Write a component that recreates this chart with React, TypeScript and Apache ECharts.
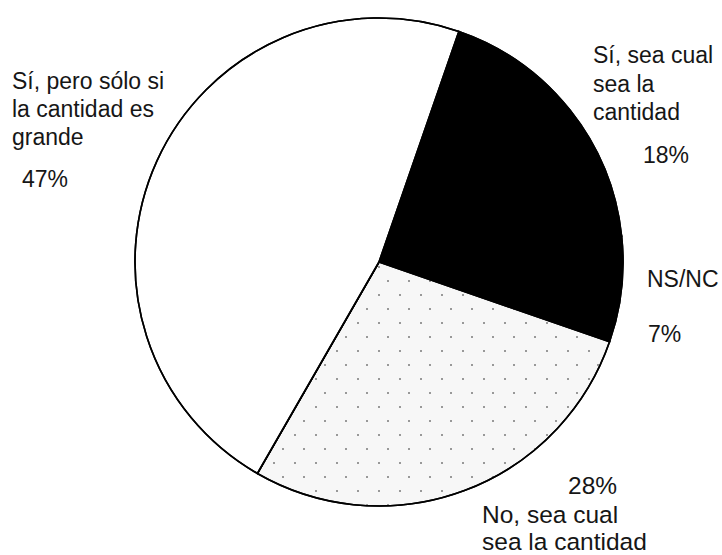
import React, { useEffect, useRef } from 'react';
import * as echarts from 'echarts';

// Data
const categories = [
  'Sí, sea cual\nsea la\ncantidad',
  'NS/NC',
  'No, sea cual\nsea la cantidad',
  'Sí, pero sólo si\nla cantidad es\ngrande',
];
const values = [18, 7, 28, 47];

const FAMILY = '"Liberation Sans", Arial, Helvetica, sans-serif';
const TEXT = '#161616';

export default function App() {
  const ref = useRef<HTMLDivElement>(null);

  useEffect(() => {
    document.body.style.margin = '0';
    if (!ref.current) return;
    const chart = echarts.init(ref.current, undefined, { renderer: 'svg' });

    const fills = ['#000000', '#000000', '#f7f7f7', '#ffffff'];
    const dotted = {
      symbol: 'rect',
      symbolSize: 1,
      color: 'rgba(60,60,60,0.5)',
      dashArrayX: [[1.5, 19], [0, 9, 1.5, 10]],
      dashArrayY: [1.5, 12],
      rotation: 0,
    };

    const txt = (
      text: string,
      x: number,
      y: number,
      size: number,
      lh: number,
      va: string = 'top'
    ) => ({
      type: 'text',
      x,
      y,
      silent: true,
      style: {
        text,
        fill: TEXT,
        font: `${size}px ${FAMILY}`,
        lineHeight: lh,
        textAlign: 'left',
        textVerticalAlign: va,
      },
    });

    const pct = (i: number) => `${values[i]}%`;

    chart.setOption({
      animation: false,
      backgroundColor: '#ffffff',
      aria: { enabled: true, decal: { show: true } },
      series: [
        {
          type: 'pie',
          center: [379, 262],
          radius: 244,
          startAngle: 70.9,
          clockwise: true,
          label: { show: false },
          labelLine: { show: false },
          emphasis: { disabled: true },
          data: categories.map((name, i) => ({
            name,
            value: values[i],
            itemStyle: {
              color: fills[i],
              borderColor: '#000000',
              borderWidth: 1.6,
              decal: i === 2 ? dotted : { symbol: 'none' },
            },
          })),
        },
      ],
      graphic: [
        txt(categories[3], 12, 67, 23, 28),
        txt(pct(3), 22, 179, 23, 28, 'middle'),
        txt(categories[0], 593, 41, 23, 28.5),
        txt(pct(0), 643, 155, 23, 28, 'middle'),
        txt(categories[1], 647, 279, 23, 28, 'middle'),
        txt(pct(1), 648, 334, 23, 28, 'middle'),
        txt(pct(2), 568, 485.5, 24.5, 28, 'middle'),
        txt(categories[2], 482, 501, 24.5, 27),
      ],
    });

    return () => chart.dispose();
  }, []);

  return <div ref={ref} style={{ width: 722, height: 555 }} />;
}
